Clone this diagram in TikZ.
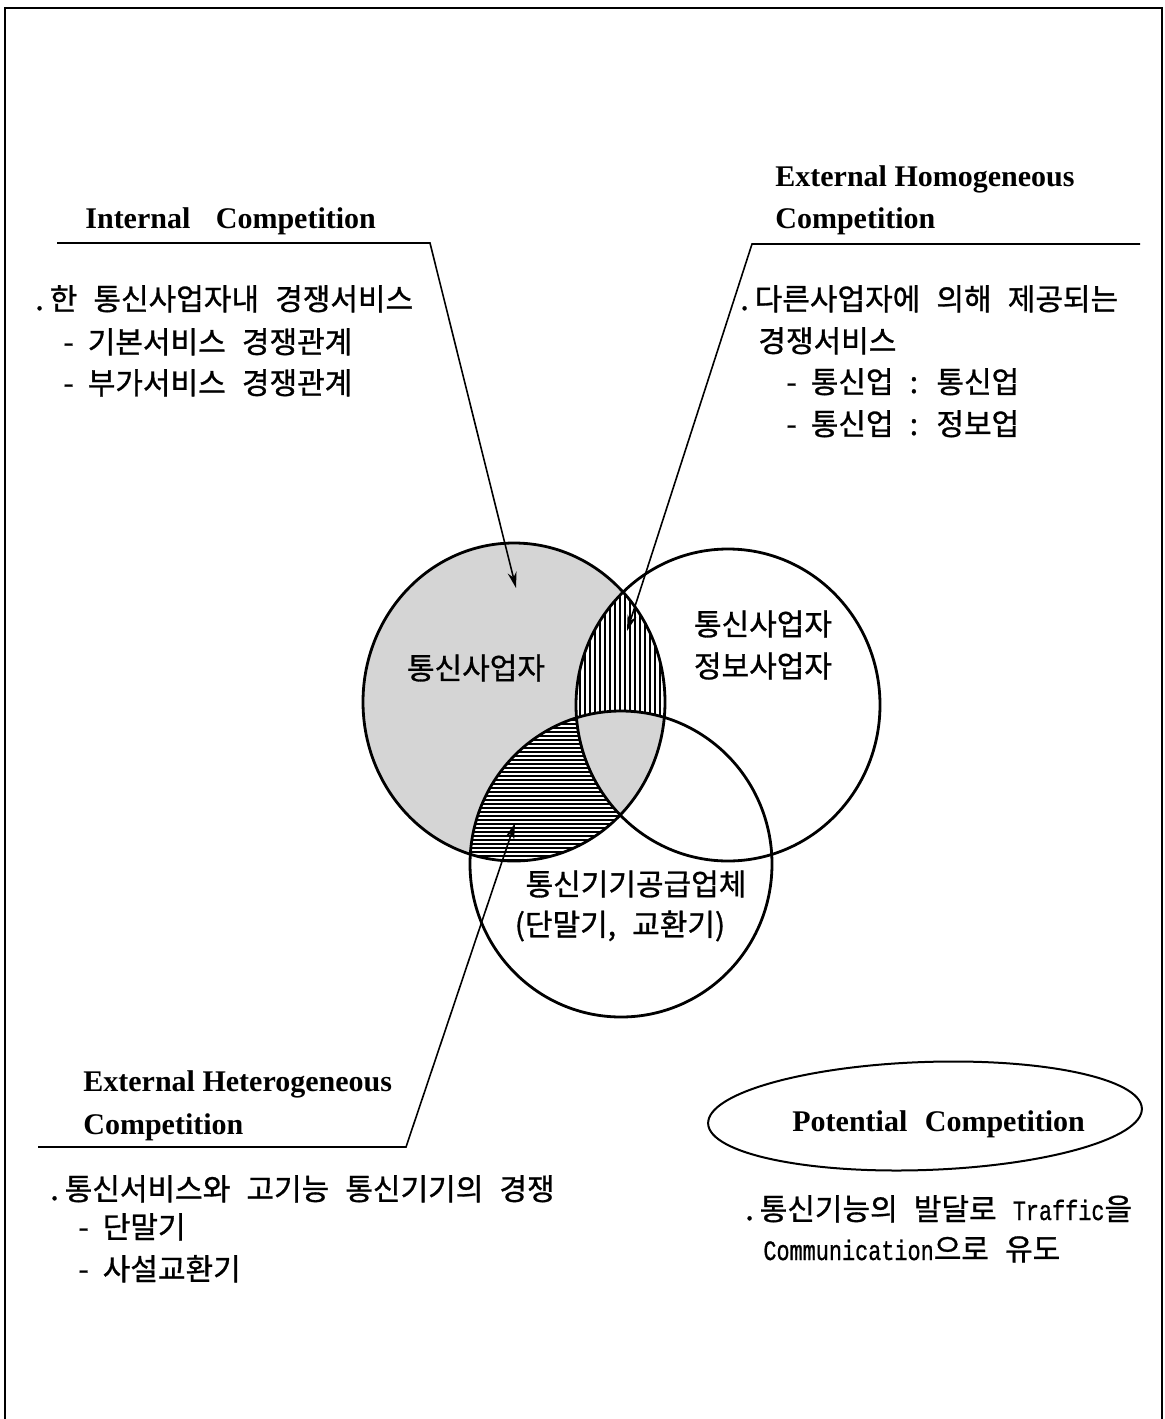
\documentclass[tikz,border=0pt]{standalone}
\usepackage{fontspec}
\usepackage{graphicx}
\setmainfont{Liberation Serif}
\newfontfamily\kr[WordSpace=2.4,FakeBold=1]{Noto Sans CJK KR}
\newfontfamily\lmono[FakeBold=1]{Liberation Mono}
\usetikzlibrary{arrows.meta}
\newcommand{\monotxt}[1]{\scalebox{0.78}[1]{\lmono\fontsize{14pt}{16pt}\selectfont #1}}
\begin{document}
\begin{tikzpicture}[x=0.5pt,y=-0.5pt,
  frame/.style={line width=1.1pt},
  circ/.style={line width=1.4pt},
  lead/.style={line width=0.8pt},
  arr/.style={lead,-{Stealth[length=8pt,width=4.5pt]}},
  etitle/.style={font=\fontsize{15pt}{17pt}\selectfont\bfseries,anchor=base west,inner sep=0pt},
  ktxt/.style={font=\kr\fontsize{15pt}{17pt}\selectfont,anchor=base west,inner sep=0pt},
  klabel/.style={font=\kr\fontsize{15pt}{17pt}\selectfont,anchor=center,inner sep=0pt},
  hatch/.style={line width=0.65pt},
  shade/.style={fill=gray!33}
]
\useasboundingbox (0,0) rectangle (1165,1419);
% frame
\coordinate (fbl) at (5,1419);
\coordinate (ftl) at (5,8);
\coordinate (ftr) at (1162,8);
\coordinate (fbr) at (1162,1419);
\draw[frame] (fbl) -- (ftl) -- (ftr) -- (fbr);

% circle centres
\coordinate (A) at (514,702);
\coordinate (B) at (728,705);
\coordinate (C) at (621,864);
\def\circA{(A) ellipse [x radius=151, y radius=159]}
\def\circB{(B) ellipse [x radius=152, y radius=156]}
\def\circC{(C) ellipse [x radius=151, y radius=153]}

\fill[shade] \circA;
\begin{scope}
  \clip \circA;
  \clip \circB;
  \fill[white] (540,520) rectangle (700,880);
  \foreach \x in {560,565,...,690} \draw[hatch] (\x,530) -- (\x,880);
\end{scope}
\begin{scope}
  \clip \circA;
  \clip \circC;
  \fill[white] (440,690) rectangle (700,880);
  \foreach \y in {700,704,...,870} \draw[hatch,line width=0.55pt] (440,\y) -- (700,\y);
\end{scope}
\begin{scope}
  \clip \circA;
  \clip \circB;
  \clip \circC;
  \fill[shade] (500,650) rectangle (720,870);
\end{scope}
\draw[circ] \circA;
\draw[circ] \circB;
\draw[circ] \circC;

% circle labels
\node[klabel] (labA) at (476,668) {통신사업자};
\node[klabel] (labB1) at (763,624) {통신사업자};
\node[klabel] (labB2) at (763,666) {정보사업자};
\node[klabel] (labC1) at (636,884) {통신기기공급업체};
\node[klabel] (labC2) at (620,926) {(단말기, 교환기)};

% leaders
\coordinate (iL) at (57,243);
\coordinate (iC) at (430,243);
\coordinate (iT) at (516,588);
\draw[arr] (iL) -- (iC) -- (iT);

\coordinate (hL) at (1140,244);
\coordinate (hC) at (752,244);
\coordinate (hT) at (627,631);
\draw[arr] (hL) -- (hC) -- (hT);

\coordinate (xL) at (38,1147);
\coordinate (xC) at (406,1147);
\coordinate (xT) at (515,823);
\draw[arr] (xL) -- (xC) -- (xT);

% titles
\node[etitle] (intT) at (85,228) {Internal\hspace{9pt} Competition};
\node[etitle] (homT1) at (775,186) {External Homogeneous};
\node[etitle] (homT2) at (775,228) {Competition};
\node[etitle] (hetT1) at (83,1091) {External Heterogeneous};
\node[etitle] (hetT2) at (83,1134) {Competition};

% potential
\draw[lead,line width=1pt,rotate around={2:(925,1116)}] (925,1116) ellipse [x radius=217, y radius=54];
\node[etitle] (potT) at (792,1131) {Potential\hspace{5pt} Competition};

% internal block
\node[ktxt] (int1) at (35,310) {.\hspace{3pt}한 통신사업자내 경쟁서비스};
\node[ktxt] (int2) at (63,353) {-\hspace{7pt}기본서비스 경쟁관계};
\node[ktxt] (int3) at (63,394) {-\hspace{7pt}부가서비스 경쟁관계};

% homogeneous block
\node[ktxt] (hom1) at (740,310) {.\hspace{3pt}다른사업자에 의해 제공되는};
\node[ktxt] (hom2) at (758,352) {경쟁서비스};
\node[ktxt] (hom3) at (786,393) {-\hspace{7pt}통신업 : 통신업};
\node[ktxt] (hom4) at (786,435) {-\hspace{7pt}통신업 : 정보업};

% heterogeneous block
\node[ktxt] (het1) at (50,1200) {.\hspace{3pt}통신서비스와 고기능 통신기기의 경쟁};
\node[ktxt] (het2) at (78,1238) {-\hspace{7pt}단말기};
\node[ktxt] (het3) at (78,1280) {-\hspace{7pt}사설교환기};

% potential block
\node[ktxt] (pot1) at (745,1220) {.\hspace{3pt}통신기능의 발달로 \monotxt{Traffic}을};
\node[ktxt] (pot2) at (763,1260) {\monotxt{Communication}으로 유도};
\end{tikzpicture}
\end{document}
